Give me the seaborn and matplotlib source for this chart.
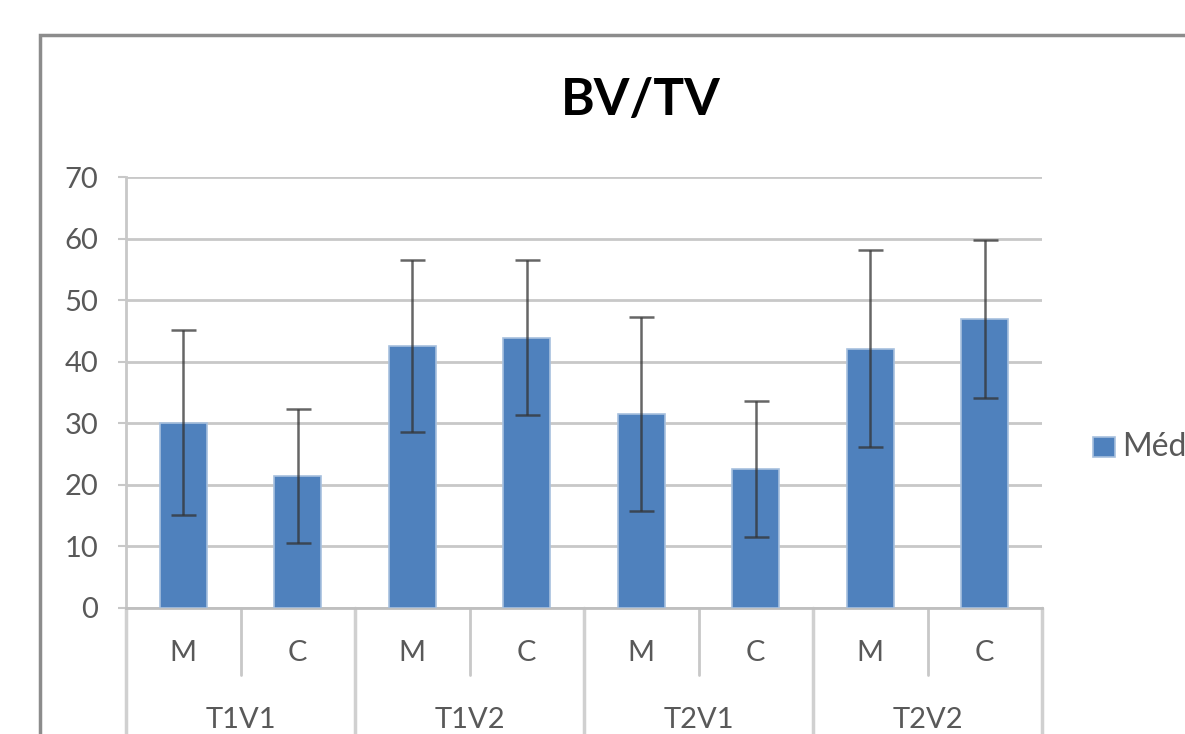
import matplotlib
matplotlib.use("Agg")
import matplotlib.pyplot as plt
import matplotlib.patches as mpatches
import matplotlib.transforms as mtrans
import pandas as pd
import seaborn as sns

# data
grupos = ["T1V1", "T1V2", "T2V1", "T2V2"]
subgrupos = ["M", "C"]
medias = [30.1, 21.4, 42.6, 43.9, 31.5, 22.6, 42.1, 46.9]
desvios = [15.0, 10.9, 14.0, 12.6, 15.7, 11.0, 16.0, 12.8]
yticks = [0, 10, 20, 30, 40, 50, 60, 70]

rotulos = [g + " " + s for g in grupos for s in subgrupos]
df = pd.DataFrame({"grupo": rotulos, "valor": medias})

sns.set_theme(style="white")
plt.rcParams["font.family"] = ["Lato", "DejaVu Sans"]

azul = "#4F81BD"
cinza_txt = "#595959"
cinza_grade = "#C8C8C8"
fs = 21

fig = plt.figure(figsize=(11.85, 7.34), dpi=100)
ax = fig.add_axes([126/1185, 126/734, 916/1185, 431/734])

sns.barplot(data=df, x="grupo", y="valor", order=rotulos, color=azul,
            saturation=1, width=0.41, errorbar=None, ax=ax,
            edgecolor="#A7C0DE", linewidth=1.2, zorder=3)
ax.errorbar(range(len(medias)), medias, yerr=desvios, fmt="none",
            ecolor="#333333", elinewidth=1.8, capsize=9, capthick=1.8,
            alpha=0.75, zorder=4)

ax.set_xlim(-0.5, 7.5)
ax.set_ylim(0, 70)
ax.set_yticks(yticks)
ax.set_yticklabels([str(v) for v in yticks], fontsize=fs, color=cinza_txt)
ax.tick_params(axis="y", length=6, width=1.5, color=cinza_grade, pad=14, left=True)
ax.set_xticks([])
ax.set_xlabel("")
ax.set_ylabel("")
ax.yaxis.grid(True, color=cinza_grade, linewidth=2, zorder=0)
ax.set_axisbelow(True)
for lado in ["top", "right"]:
    ax.spines[lado].set_visible(False)
ax.spines["left"].set_color(cinza_grade)
ax.spines["left"].set_linewidth(2)
ax.spines["bottom"].set_color("#BFBFBF")
ax.spines["bottom"].set_linewidth(2)

# two-level category axis
tr = mtrans.blended_transform_factory(ax.transData, ax.transAxes)
for i, r in enumerate(rotulos):
    ax.text(i, -0.104, r.split()[1], transform=tr, ha="center", va="center",
            fontsize=fs, color=cinza_txt)
for k, g in enumerate(grupos):
    ax.text(2*k + 0.5, -0.26, g, transform=tr, ha="center", va="center",
            fontsize=fs, color=cinza_txt)
    ax.plot([2*k + 0.5, 2*k + 0.5], [0, -0.155], transform=tr,
            color=cinza_grade, lw=2, clip_on=False)
for k in range(len(grupos) + 1):
    x = 2*k - 0.5
    ax.plot([x, x], [0, -0.3], transform=tr, color="#D0D0D0", lw=2.5, clip_on=False)

# title
fig.text(641/1185, 1 - 101/734, "BV/TV", ha="center", va="center",
         fontsize=37, fontweight="bold", color="#000000")

# legend (cut at the right edge)
fig.add_artist(mpatches.Rectangle((1093/1185, 1 - 457/734), 22/1185, 20/734,
                                  transform=fig.transFigure, facecolor=azul,
                                  edgecolor="#A7C0DE", lw=1.2))
fig.text(1122/1185, 1 - 447/734, "Méd", ha="left", va="center",
         fontsize=23, color=cinza_txt)

# outer chart frame
fig.add_artist(mpatches.Rectangle((40/1185, -0.1), 1.2, 1 - 35/734 + 0.1,
                                  transform=fig.transFigure, fill=False,
                                  edgecolor="#8C8C8C", lw=2.5))

fig.savefig("out.png", dpi=100)
